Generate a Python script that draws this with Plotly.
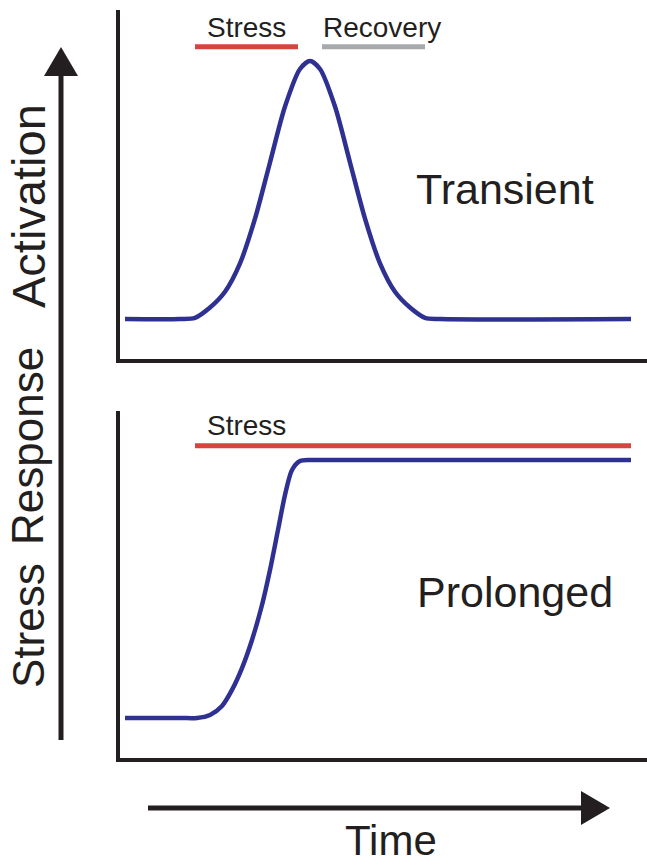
import plotly.graph_objects as go

W, H = 647, 865

# ---- data (time in arbitrary units, activation relative to peak = 1) ----
time_transient = [0, 5.5, 7, 8.5, 10, 11.5, 13, 14.5, 16, 17.5, 18.5, 19.5, 21, 22.5, 24,
                  25.5, 27, 28.5, 30, 31.5, 50.6]
act_transient = [0.1, 0.1, 0.104, 0.140, 0.195, 0.294, 0.450, 0.646, 0.841, 0.972, 1.0,
                 0.972, 0.841, 0.646, 0.450, 0.294, 0.195, 0.140, 0.104, 0.1, 0.1]
time_prolonged = [0, 5.5, 7.2, 8.5, 9.7, 10.7, 11.7, 12.7, 13.7, 14.5, 15.3, 16.0, 16.7,
                  17.5, 18.5, 20.0, 50.6]
act_prolonged = [0.1, 0.1, 0.1, 0.1105, 0.142, 0.198, 0.274, 0.372, 0.494, 0.616, 0.756,
                 0.878, 0.965, 0.996, 1.0, 1.0, 1.0]
stress_top = [7.0, 17.3]
recovery_top = [19.7, 30.0]
stress_bottom = [7.0, 50.6]
bar_level = [1.05, 1.05]

BLUE = "#2e3192"
RED = "#d5453d"
GRAY = "#a7a9ac"
INK = "#231f20"
FONT = "Liberation Sans, Arial, sans-serif"


def px(x):
    return x / W


def py(y):
    return 1 - y / H


fig = go.Figure()
fig.add_trace(go.Scatter(x=time_transient, y=act_transient, mode="lines",
                         line=dict(color=BLUE, width=4.5, shape="spline", smoothing=0.8),
                         xaxis="x", yaxis="y", hoverinfo="skip"))
fig.add_trace(go.Scatter(x=stress_top, y=bar_level, mode="lines",
                         line=dict(color=RED, width=5), xaxis="x", yaxis="y", hoverinfo="skip"))
fig.add_trace(go.Scatter(x=recovery_top, y=bar_level, mode="lines",
                         line=dict(color=GRAY, width=5), xaxis="x", yaxis="y", hoverinfo="skip"))
fig.add_trace(go.Scatter(x=time_prolonged, y=act_prolonged, mode="lines",
                         line=dict(color=BLUE, width=4.5, shape="spline", smoothing=0.8),
                         xaxis="x2", yaxis="y2", hoverinfo="skip"))
fig.add_trace(go.Scatter(x=stress_bottom, y=bar_level, mode="lines",
                         line=dict(color=RED, width=5), xaxis="x2", yaxis="y2", hoverinfo="skip"))

scale = 286.7  # px per activation unit
top_t, top_b = 10, 359
bot_t, bot_b = 411, 758
rng_top = [0.1 - 40 / scale, 0.1 + (top_b - top_t - 40) / scale]
rng_bot = [0.1 - 40 / scale, 0.1 + (bot_b - bot_t - 40) / scale]

axis_common = dict(showline=True, linewidth=4, linecolor=INK, showticklabels=False,
                   ticks="", showgrid=False, zeroline=False, fixedrange=True)

fig.update_layout(
    width=W, height=H, margin=dict(l=0, r=0, t=0, b=0),
    paper_bgcolor="white", plot_bgcolor="white", showlegend=False,
    xaxis=dict(domain=[px(120), 1], range=[-0.5, 52.2], anchor="y", **axis_common),
    yaxis=dict(domain=[py(top_b), py(top_t)], range=rng_top, anchor="x", **axis_common),
    xaxis2=dict(domain=[px(120), 1], range=[-0.5, 52.2], anchor="y2", **axis_common),
    yaxis2=dict(domain=[py(bot_b), py(bot_t)], range=rng_bot, anchor="x2", **axis_common),
)

# arrows
shapes = [
    dict(type="line", xref="paper", yref="paper", x0=px(61), x1=px(61), y0=py(740), y1=py(70),
         line=dict(color=INK, width=5)),
    dict(type="path", xref="paper", yref="paper",
         path=f"M {px(44)},{py(76)} L {px(78)},{py(76)} L {px(61)},{py(47)} Z",
         fillcolor=INK, line=dict(color=INK, width=0)),
    dict(type="line", xref="paper", yref="paper", x0=px(148), x1=px(588), y0=py(808), y1=py(808),
         line=dict(color=INK, width=5)),
    dict(type="path", xref="paper", yref="paper",
         path=f"M {px(581)},{py(791)} L {px(581)},{py(825)} L {px(610)},{py(808)} Z",
         fillcolor=INK, line=dict(color=INK, width=0)),
]
fig.update_layout(shapes=shapes)


def label(text, x, y, size, angle=0):
    return dict(text=text, x=px(x), y=py(y), xref="paper", yref="paper",
                xanchor="center", yanchor="middle", showarrow=False, textangle=angle,
                borderpad=0, font=dict(family=FONT, size=size, color=INK))


fig.update_layout(annotations=[
    label("Stress", 246, 27, 28),
    label("Recovery", 382, 27, 28),
    label("Transient", 505, 189, 43),
    label("Stress", 246, 425, 28),
    label("Prolonged", 515, 592, 43),
    label("Time", 391, 840, 42),
    label("Stress", 28, 626, 44, angle=-90),
    label("Response", 28, 446, 44, angle=-90),
    label("Activation", 28, 206, 47, angle=-90),
])

fig.write_html("out.html", config={"displayModeBar": False},
               post_script="document.body.style.margin='0';document.body.style.overflow='hidden';")
